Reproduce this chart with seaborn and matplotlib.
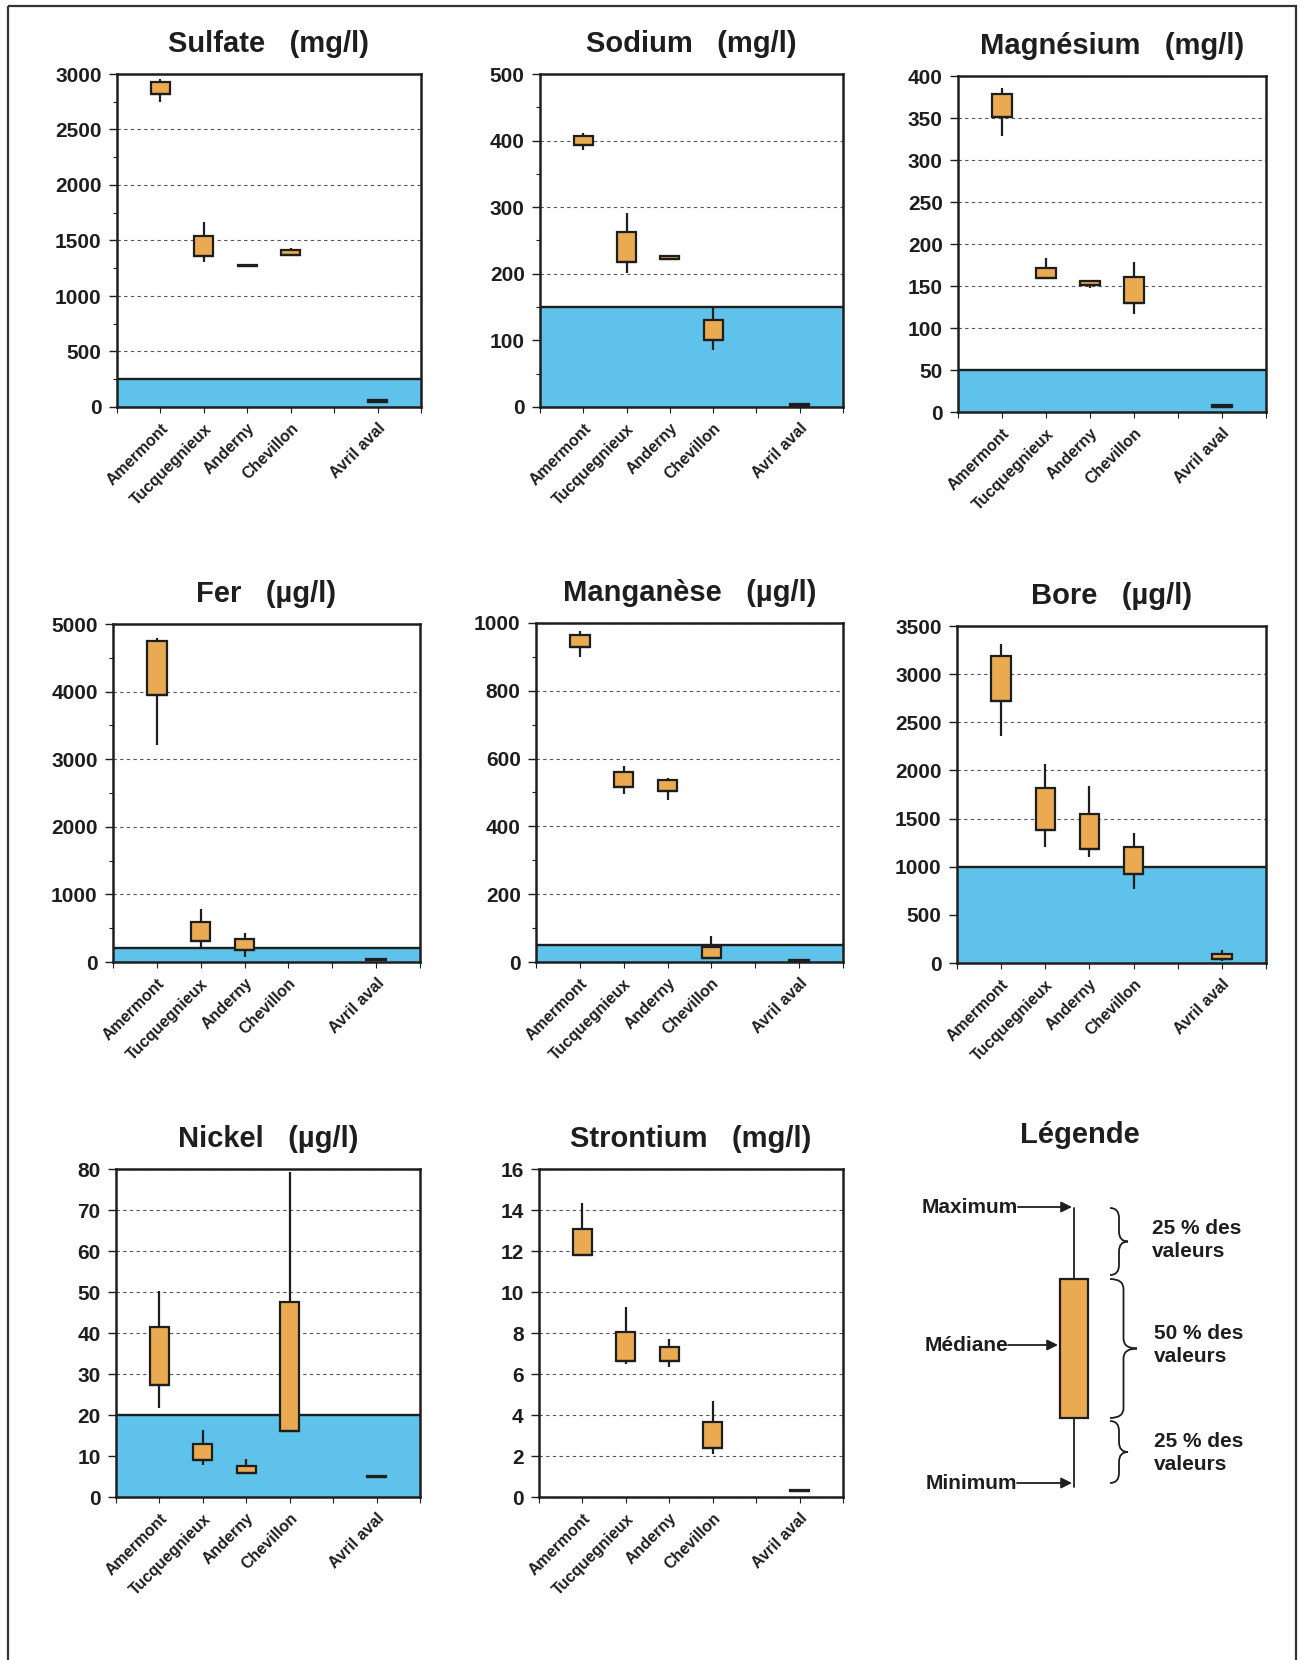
import numpy as np
import pandas as pd
import matplotlib
matplotlib.use("Agg")
import matplotlib.pyplot as plt
from matplotlib.patches import Rectangle, PathPatch
from matplotlib.path import Path
from matplotlib.ticker import MultipleLocator
import seaborn as sns

# stations, in plotting order (one empty slot before Avril aval)
stations = ['Amermont', 'Tucquegnieux', 'Anderny', 'Chevillon', 'Avril aval']
slots = ['Amermont', 'Tucquegnieux', 'Anderny', 'Chevillon', ' ', 'Avril aval']

# min / 1st quartile / 3rd quartile / max
sulfate_min = [2745, 1310, 1265, 1358, 35]
sulfate_q1 = [2820, 1356, 1268, 1372, 42]
sulfate_q3 = [2930, 1542, 1278, 1412, 62]
sulfate_max = [2955, 1670, 1282, 1430, 70]

sodium_min = [386, 201, 221, 85, 1]
sodium_q1 = [394, 218, 222, 100, 2]
sodium_q3 = [407, 263, 227, 131, 5]
sodium_max = [412, 292, 228, 148, 6]

magnesium_min = [328, 158, 148, 117, 5]
magnesium_q1 = [351, 159, 151, 130, 6]
magnesium_q3 = [379, 171, 156, 161, 8]
magnesium_max = [386, 183, 157, 178, 9]

fer_min = [3210, 207, 75, None, 20]
fer_q1 = [3950, 306, 183, None, 28]
fer_q3 = [4750, 592, 336, None, 45]
fer_max = [4800, 790, 430, None, 50]

manganese_min = [899, 496, 478, 10, 2]
manganese_q1 = [929, 517, 505, 13, 3]
manganese_q3 = [965, 559, 537, 44, 6]
manganese_max = [975, 579, 542, 76, 7]

bore_min = [2360, 1202, 1106, 771, 24]
bore_q1 = [2719, 1382, 1189, 923, 41]
bore_q3 = [3189, 1814, 1548, 1202, 93]
bore_max = [3310, 2066, 1838, 1348, 138]

nickel_min = [21.7, 7.9, 5.9, 16.0, 5.0]
nickel_q1 = [27.4, 9.1, 5.9, 16.0, 5.0]
nickel_q3 = [41.5, 13.0, 7.6, 47.6, 5.1]
nickel_max = [50.2, 16.3, 9.3, 79.2, 5.1]

strontium_min = [11.75, 6.5, 6.34, 2.10, 0.28]
strontium_q1 = [11.79, 6.65, 6.62, 2.39, 0.29]
strontium_q3 = [13.09, 8.05, 7.30, 3.66, 0.33]
strontium_max = [14.34, 9.27, 7.71, 4.67, 0.34]

# quality limits (blue band), None = no limit drawn
thresholds = [250, 150, 50, 200, 50, 1000, 20, None]

ORANGE = '#E9AA52'
BLUE = '#5EC2EA'
INK = '#1e1e1e'
W, H = 1300, 1660

sns.set_style('white')
plt.rcParams['font.family'] = ['Liberation Sans', 'DejaVu Sans']
plt.rcParams['font.weight'] = 'bold'
plt.rcParams['text.color'] = INK
plt.rcParams['xtick.color'] = INK
plt.rcParams['ytick.color'] = INK


def to_table(mins, q1s, q3s, maxs):
    rows = []
    for st, lo, a, b, hi in zip(stations, mins, q1s, q3s, maxs):
        if lo is None:
            continue
        # five points: percentiles 25/75 fall exactly on q1/q3, whiskers at min/max
        for v in (lo, a, a, b, hi):
            rows.append({'station': st, 'value': v})
    return pd.DataFrame(rows)


def px_rect(l, t, r, b):
    return [l / W, 1 - b / H, (r - l) / W, (b - t) / H]


panels = [
    ('Sulfate   (mg/l)', (sulfate_min, sulfate_q1, sulfate_q3, sulfate_max), 3000, 500, True, (117, 74, 421, 407)),
    ('Sodium   (mg/l)', (sodium_min, sodium_q1, sodium_q3, sodium_max), 500, 100, True, (540, 74, 843, 407)),
    ('Magnésium   (mg/l)', (magnesium_min, magnesium_q1, magnesium_q3, magnesium_max), 400, 50, False, (958, 76, 1266, 412)),
    ('Fer   (µg/l)', (fer_min, fer_q1, fer_q3, fer_max), 5000, 1000, True, (113, 624, 420, 962)),
    ('Manganèse   (µg/l)', (manganese_min, manganese_q1, manganese_q3, manganese_max), 1000, 200, True, (536, 623, 843, 962)),
    ('Bore   (µg/l)', (bore_min, bore_q1, bore_q3, bore_max), 3500, 500, False, (957, 626, 1266, 963)),
    ('Nickel   (µg/l)', (nickel_min, nickel_q1, nickel_q3, nickel_max), 80, 10, False, (116, 1169, 420, 1497)),
    ('Strontium   (mg/l)', (strontium_min, strontium_q1, strontium_q3, strontium_max), 16, 2, False, (539, 1169, 843, 1497)),
]

fig = plt.figure(figsize=(13, 16.6), dpi=100)

# background layer in pixel coordinates: page frame + legend sketch
bg = fig.add_axes([0, 0, 1, 1], zorder=-1)
bg.set_xlim(0, W)
bg.set_ylim(H, 0)
bg.axis('off')
bg.add_patch(Rectangle((8, 6), 1288, 1700, fill=False, lw=1.6, ec='#333', clip_on=False))

for (title, stats, ymax, step, minor, rect), thr in zip(panels, thresholds):
    ax = fig.add_axes(px_rect(*rect))
    if thr is not None:
        ax.axhspan(0, thr, color=BLUE, lw=0, zorder=1)
        ax.axhline(thr, color=INK, lw=1.7, zorder=1.5)
    df = to_table(*stats)
    sns.boxplot(data=df, x='station', y='value', order=slots, whis=(0, 100),
                width=0.44, color=ORANGE, saturation=1, linecolor=INK,
                linewidth=1.6, showcaps=False, showfliers=False, ax=ax)
    ax.set_xlabel('')
    ax.set_ylabel('')
    ax.set_xlim(-1, 6)
    ax.set_xticks(range(-1, 7))
    ax.set_xticklabels([''] + slots + [''], rotation=45, ha='right',
                       rotation_mode='anchor')
    ax.set_ylim(0, ymax)
    ax.yaxis.set_major_locator(MultipleLocator(step))
    if minor:
        ax.yaxis.set_minor_locator(MultipleLocator(step / 2))
    ax.grid(axis='y', which='major', linestyle=(0, (3, 3)), color='#555', lw=0.8)
    ax.set_axisbelow(True)
    ax.tick_params(axis='y', which='major', direction='out', left=True,
                   length=6, width=1, labelsize=15, pad=5)
    ax.tick_params(axis='y', which='minor', direction='out', left=True,
                   length=3, width=0.8)
    ax.tick_params(axis='x', which='major', direction='out', bottom=True,
                   length=4, width=0.8, labelsize=11.5, pad=6)
    for s in ax.spines.values():
        s.set_visible(True)
        s.set_color(INK)
        s.set_linewidth(1.8)
    ax.set_title(title, fontsize=21, fontweight='bold', pad=16)


def brace(x, y0, y1, w):
    ym = (y0 + y1) / 2
    xm = x + w * 0.5
    q = min(10, (y1 - y0) / 4)
    verts = [(x, y0), (xm, y0), (xm, y0 + q), (xm, ym - q), (xm, ym), (x + w, ym),
             (xm, ym), (xm, ym + q), (xm, y1 - q), (xm, y1), (x, y1)]
    codes = [Path.MOVETO, Path.CURVE3, Path.CURVE3, Path.LINETO, Path.CURVE3, Path.CURVE3,
             Path.CURVE3, Path.CURVE3, Path.LINETO, Path.CURVE3, Path.CURVE3]
    bg.add_patch(PathPatch(Path(verts, codes), fill=False, lw=1.3, ec=INK))


# legend sketch
bg.text(1080, 1135, 'Légende', ha='center', va='center', fontsize=21)
bg.plot([1074, 1074], [1208, 1487], color=INK, lw=1.3, zorder=1)
bg.add_patch(Rectangle((1060, 1279), 28, 139, fc=ORANGE, ec=INK, lw=1.6, zorder=2))
arrow = dict(arrowstyle='-|>', lw=1.3, color=INK, mutation_scale=16, shrinkA=0, shrinkB=0)
for label, y, x0, x1 in [('Maximum', 1207, 1018, 1072),
                         ('Médiane', 1345, 1008, 1058),
                         ('Minimum', 1483, 1017, 1072)]:
    bg.text(x0, y, label, ha='right', va='center', fontsize=15)
    bg.annotate('', xy=(x1, y), xytext=(x0, y), arrowprops=arrow)
brace(1110, 1208, 1275, 18)
brace(1110, 1279, 1418, 27)
brace(1110, 1421, 1483, 18)
for txt, x, y in [('25 % des\nvaleurs', 1152, 1240),
                  ('50 % des\nvaleurs', 1154, 1345),
                  ('25 % des\nvaleurs', 1154, 1453)]:
    bg.text(x, y, txt, ha='left', va='center', fontsize=15, linespacing=1.3)

fig.savefig('out.png', dpi=100)
